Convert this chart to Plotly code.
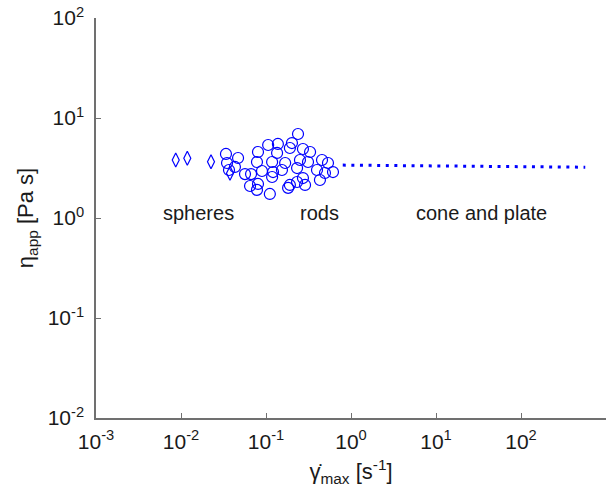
import plotly.graph_objects as go

# Data
sphere_x = [0.00867, 0.01186, 0.02254, 0.0377]
sphere_y = [3.80, 3.95, 3.66, 2.80]

rod_x = [0.0338, 0.0469, 0.0348, 0.0431, 0.0367, 0.0566, 0.0667, 0.0649, 0.0783, 0.0805,
         0.106, 0.138, 0.202, 0.238, 0.135, 0.191, 0.272, 0.330, 0.0783, 0.118,
         0.168, 0.251, 0.312, 0.456, 0.536, 0.121, 0.154, 0.232, 0.398, 0.494,
         0.614, 0.118, 0.431, 0.272, 0.232, 0.191, 0.288, 0.182, 0.111, 0.0805, 0.0897]
rod_y = [4.37, 3.98, 3.55, 3.24, 3.02, 2.75, 2.75, 2.09, 1.91, 4.57,
         5.37, 5.50, 5.62, 6.92, 4.47, 5.01, 4.90, 4.57, 3.63, 3.63,
         3.55, 3.80, 3.63, 3.80, 3.55, 2.88, 3.02, 3.16, 3.02, 2.82,
         2.88, 2.57, 2.40, 2.51, 2.29, 2.14, 2.14, 2.00, 1.74, 2.19, 2.95]

cp_x = [0.8, 2, 10, 50, 200, 570]
cp_y = [3.38, 3.36, 3.33, 3.30, 3.26, 3.22]

x_tickvals = [1e-3, 1e-2, 1e-1, 1e0, 1e1, 1e2]
x_ticktext = ["10<sup>-3</sup>", "10<sup>-2</sup>", "10<sup>-1</sup>", "10<sup>0</sup>", "10<sup>1</sup>", "10<sup>2</sup>"]
y_tickvals = [1e-2, 1e-1, 1e0, 1e1, 1e2]
y_ticktext = ["10<sup>-2</sup>", "10<sup>-1</sup>", "10<sup>0</sup>", "10<sup>1</sup>", "10<sup>2</sup>"]

region_labels = ["spheres", "rods", "cone and plate"]
region_x_log = [-1.8, -0.365, 1.54]
region_y_log = [0.05, 0.05, 0.05]

FONT = "Arial, Liberation Sans, sans-serif"
BLUE = "#0000ff"
TXT = "#1a1a1a"

fig = go.Figure()
fig.add_trace(go.Scatter(
    x=sphere_x, y=sphere_y, mode="markers", name="spheres",
    marker=dict(symbol="diamond-tall-open", size=10, color=BLUE, line=dict(width=1.2, color=BLUE)),
))
fig.add_trace(go.Scatter(
    x=rod_x, y=rod_y, mode="markers", name="rods",
    marker=dict(symbol="circle-open", size=11, color=BLUE, line=dict(width=1.2, color=BLUE)),
))
fig.add_trace(go.Scatter(
    x=cp_x, y=cp_y, mode="lines", name="cone and plate",
    line=dict(color=BLUE, width=3, dash="3px,5.6px"),
))

for t, xl, yl in zip(region_labels, region_x_log, region_y_log):
    fig.add_annotation(x=xl, y=yl, xref="x", yref="y", text=t, showarrow=False,
                       font=dict(family=FONT, size=20, color=TXT),
                       xanchor="center", yanchor="middle")

axis_common = dict(
    type="log", showgrid=False, zeroline=False, showline=True,
    linecolor="#707070", linewidth=1.5, ticks="inside", ticklen=5, tickcolor="#707070",
    tickfont=dict(family=FONT, size=21, color=TXT), mirror=False,
)

fig.update_layout(
    width=611, height=500,
    margin=dict(l=96, r=5, t=18, b=82),
    paper_bgcolor="white", plot_bgcolor="white",
    showlegend=False,
    xaxis=dict(range=[-3, 3], tickvals=x_tickvals, ticktext=x_ticktext, ticklabelstandoff=4,
               title=dict(text="γ̇<sub>max</sub> [s<sup>-1</sup>]", font=dict(family=FONT, size=22, color=TXT), standoff=12),
               **axis_common),
    yaxis=dict(range=[-2, 2], tickvals=y_tickvals, ticktext=y_ticktext, ticklabelstandoff=6,
               title=dict(text="η<sub>app</sub> [Pa s]", font=dict(family=FONT, size=22, color=TXT), standoff=8),
               **axis_common),
)

fig.write_html("out.html")
